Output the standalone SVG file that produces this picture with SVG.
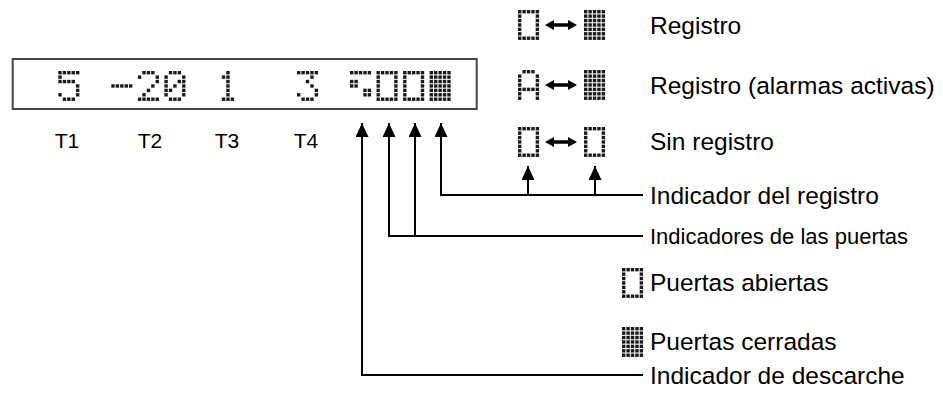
<svg xmlns="http://www.w3.org/2000/svg" xmlns:xlink="http://www.w3.org/1999/xlink" width="943" height="402" viewBox="0 0 943 402">
<style>
.dm{fill:#1a1a1a}
.lbl{font-family:"Liberation Sans",Arial,sans-serif;font-size:24.5px;fill:#000}
.sm{font-size:22px}
.tl{font-family:"Liberation Sans",Arial,sans-serif;font-size:21px;fill:#000;text-anchor:middle}
.ln{fill:none;stroke:#000;stroke-width:2}
</style>
<defs>
<marker id="ah" viewBox="0 0 14 13" refX="14" refY="6.5" markerWidth="14" markerHeight="13" markerUnits="userSpaceOnUse" orient="auto"><path d="M0,0 L14,6.5 L0,13 z" fill="#000"/></marker>
<path id="dbl" d="M0,0 L9,-5 L9,-1.8 L23,-1.8 L23,-5 L32,0 L23,5 L23,1.8 L9,1.8 L9,5 z" fill="#000"/>
<g id="g5" class="dm"><rect x="0" y="0" width="3.4" height="3.4"/><rect x="4.42" y="0" width="3.4" height="3.4"/><rect x="8.84" y="0" width="3.4" height="3.4"/><rect x="13.26" y="0" width="3.4" height="3.4"/><rect x="17.68" y="0" width="3.4" height="3.4"/><rect x="0" y="4.42" width="3.4" height="3.4"/><rect x="0" y="8.84" width="3.4" height="3.4"/><rect x="4.42" y="8.84" width="3.4" height="3.4"/><rect x="8.84" y="8.84" width="3.4" height="3.4"/><rect x="13.26" y="8.84" width="3.4" height="3.4"/><rect x="17.68" y="13.26" width="3.4" height="3.4"/><rect x="17.68" y="17.68" width="3.4" height="3.4"/><rect x="0" y="22.1" width="3.4" height="3.4"/><rect x="17.68" y="22.1" width="3.4" height="3.4"/><rect x="4.42" y="26.52" width="3.4" height="3.4"/><rect x="8.84" y="26.52" width="3.4" height="3.4"/><rect x="13.26" y="26.52" width="3.4" height="3.4"/></g>
<g id="gm" class="dm"><rect x="0" y="13.26" width="3.4" height="3.4"/><rect x="4.42" y="13.26" width="3.4" height="3.4"/><rect x="8.84" y="13.26" width="3.4" height="3.4"/><rect x="13.26" y="13.26" width="3.4" height="3.4"/><rect x="17.68" y="13.26" width="3.4" height="3.4"/></g>
<g id="g2" class="dm"><rect x="4.42" y="0" width="3.4" height="3.4"/><rect x="8.84" y="0" width="3.4" height="3.4"/><rect x="13.26" y="0" width="3.4" height="3.4"/><rect x="0" y="4.42" width="3.4" height="3.4"/><rect x="17.68" y="4.42" width="3.4" height="3.4"/><rect x="17.68" y="8.84" width="3.4" height="3.4"/><rect x="13.26" y="13.26" width="3.4" height="3.4"/><rect x="8.84" y="17.68" width="3.4" height="3.4"/><rect x="4.42" y="22.1" width="3.4" height="3.4"/><rect x="0" y="26.52" width="3.4" height="3.4"/><rect x="4.42" y="26.52" width="3.4" height="3.4"/><rect x="8.84" y="26.52" width="3.4" height="3.4"/><rect x="13.26" y="26.52" width="3.4" height="3.4"/><rect x="17.68" y="26.52" width="3.4" height="3.4"/></g>
<g id="g0" class="dm"><rect x="4.42" y="0" width="3.4" height="3.4"/><rect x="8.84" y="0" width="3.4" height="3.4"/><rect x="13.26" y="0" width="3.4" height="3.4"/><rect x="0" y="4.42" width="3.4" height="3.4"/><rect x="17.68" y="4.42" width="3.4" height="3.4"/><rect x="0" y="8.84" width="3.4" height="3.4"/><rect x="13.26" y="8.84" width="3.4" height="3.4"/><rect x="17.68" y="8.84" width="3.4" height="3.4"/><rect x="0" y="13.26" width="3.4" height="3.4"/><rect x="8.84" y="13.26" width="3.4" height="3.4"/><rect x="17.68" y="13.26" width="3.4" height="3.4"/><rect x="0" y="17.68" width="3.4" height="3.4"/><rect x="4.42" y="17.68" width="3.4" height="3.4"/><rect x="17.68" y="17.68" width="3.4" height="3.4"/><rect x="0" y="22.1" width="3.4" height="3.4"/><rect x="17.68" y="22.1" width="3.4" height="3.4"/><rect x="4.42" y="26.52" width="3.4" height="3.4"/><rect x="8.84" y="26.52" width="3.4" height="3.4"/><rect x="13.26" y="26.52" width="3.4" height="3.4"/></g>
<g id="g1" class="dm"><rect x="8.84" y="0" width="3.4" height="3.4"/><rect x="4.42" y="4.42" width="3.4" height="3.4"/><rect x="8.84" y="4.42" width="3.4" height="3.4"/><rect x="8.84" y="8.84" width="3.4" height="3.4"/><rect x="8.84" y="13.26" width="3.4" height="3.4"/><rect x="8.84" y="17.68" width="3.4" height="3.4"/><rect x="8.84" y="22.1" width="3.4" height="3.4"/><rect x="4.42" y="26.52" width="3.4" height="3.4"/><rect x="8.84" y="26.52" width="3.4" height="3.4"/><rect x="13.26" y="26.52" width="3.4" height="3.4"/></g>
<g id="g3" class="dm"><rect x="0" y="0" width="3.4" height="3.4"/><rect x="4.42" y="0" width="3.4" height="3.4"/><rect x="8.84" y="0" width="3.4" height="3.4"/><rect x="13.26" y="0" width="3.4" height="3.4"/><rect x="17.68" y="0" width="3.4" height="3.4"/><rect x="13.26" y="4.42" width="3.4" height="3.4"/><rect x="8.84" y="8.84" width="3.4" height="3.4"/><rect x="13.26" y="13.26" width="3.4" height="3.4"/><rect x="17.68" y="17.68" width="3.4" height="3.4"/><rect x="0" y="22.1" width="3.4" height="3.4"/><rect x="17.68" y="22.1" width="3.4" height="3.4"/><rect x="4.42" y="26.52" width="3.4" height="3.4"/><rect x="8.84" y="26.52" width="3.4" height="3.4"/><rect x="13.26" y="26.52" width="3.4" height="3.4"/></g>
<g id="gd" class="dm"><rect x="0" y="0" width="3.4" height="3.4"/><rect x="4.42" y="0" width="3.4" height="3.4"/><rect x="8.84" y="0" width="3.4" height="3.4"/><rect x="13.26" y="0" width="3.4" height="3.4"/><rect x="17.68" y="0" width="3.4" height="3.4"/><rect x="0" y="8.84" width="3.4" height="3.4"/><rect x="4.42" y="8.84" width="3.4" height="3.4"/><rect x="0" y="13.26" width="3.4" height="3.4"/><rect x="4.42" y="13.26" width="3.4" height="3.4"/><rect x="13.26" y="17.68" width="3.4" height="3.4"/><rect x="17.68" y="17.68" width="3.4" height="3.4"/><rect x="13.26" y="22.1" width="3.4" height="3.4"/><rect x="17.68" y="22.1" width="3.4" height="3.4"/></g>
<g id="go" class="dm"><rect x="0" y="0" width="3.4" height="3.4"/><rect x="4.42" y="0" width="3.4" height="3.4"/><rect x="8.84" y="0" width="3.4" height="3.4"/><rect x="13.26" y="0" width="3.4" height="3.4"/><rect x="17.68" y="0" width="3.4" height="3.4"/><rect x="0" y="4.42" width="3.4" height="3.4"/><rect x="17.68" y="4.42" width="3.4" height="3.4"/><rect x="0" y="8.84" width="3.4" height="3.4"/><rect x="17.68" y="8.84" width="3.4" height="3.4"/><rect x="0" y="13.26" width="3.4" height="3.4"/><rect x="17.68" y="13.26" width="3.4" height="3.4"/><rect x="0" y="17.68" width="3.4" height="3.4"/><rect x="17.68" y="17.68" width="3.4" height="3.4"/><rect x="0" y="22.1" width="3.4" height="3.4"/><rect x="17.68" y="22.1" width="3.4" height="3.4"/><rect x="0" y="26.52" width="3.4" height="3.4"/><rect x="4.42" y="26.52" width="3.4" height="3.4"/><rect x="8.84" y="26.52" width="3.4" height="3.4"/><rect x="13.26" y="26.52" width="3.4" height="3.4"/><rect x="17.68" y="26.52" width="3.4" height="3.4"/></g>
<g id="grow"><rect x="0" y="0" width="3.4" height="3.4"/><rect x="4.42" y="0" width="3.4" height="3.4"/><rect x="8.84" y="0" width="3.4" height="3.4"/><rect x="13.26" y="0" width="3.4" height="3.4"/><rect x="17.68" y="0" width="3.4" height="3.4"/></g>
<g id="gc" class="dm"><use xlink:href="#grow" y="0"/><use xlink:href="#grow" y="4.42"/><use xlink:href="#grow" y="8.84"/><use xlink:href="#grow" y="13.26"/><use xlink:href="#grow" y="17.68"/><use xlink:href="#grow" y="22.1"/><use xlink:href="#grow" y="26.52"/></g>
<g id="gA" class="dm"><rect x="4.42" y="0" width="3.4" height="3.4"/><rect x="8.84" y="0" width="3.4" height="3.4"/><rect x="13.26" y="0" width="3.4" height="3.4"/><rect x="0" y="4.42" width="3.4" height="3.4"/><rect x="17.68" y="4.42" width="3.4" height="3.4"/><rect x="0" y="8.84" width="3.4" height="3.4"/><rect x="17.68" y="8.84" width="3.4" height="3.4"/><rect x="0" y="13.26" width="3.4" height="3.4"/><rect x="17.68" y="13.26" width="3.4" height="3.4"/><use xlink:href="#grow" y="17.68"/><rect x="0" y="22.1" width="3.4" height="3.4"/><rect x="17.68" y="22.1" width="3.4" height="3.4"/><rect x="0" y="26.52" width="3.4" height="3.4"/><rect x="17.68" y="26.52" width="3.4" height="3.4"/></g>
</defs>
<rect width="943" height="402" fill="#fff"/>

<g id="display">
<rect x="12.7" y="59" width="464" height="50" fill="none" stroke="#444" stroke-width="2"/>
<use xlink:href="#g5" x="58.3" y="71"/>
<use xlink:href="#gm" x="111.3" y="71"/>
<use xlink:href="#g2" x="137.9" y="71"/>
<use xlink:href="#g0" x="164.4" y="71"/>
<use xlink:href="#g1" x="217.4" y="71"/>
<use xlink:href="#g3" x="297" y="71"/>
<use xlink:href="#gd" x="350" y="71"/>
<use xlink:href="#go" x="376.5" y="71"/>
<use xlink:href="#go" x="403.1" y="71"/>
<use xlink:href="#gc" x="429.6" y="71"/>
</g>

<g id="temps">
<text class="tl" x="67" y="147.5">T1</text>
<text class="tl" x="150" y="147.5">T2</text>
<text class="tl" x="227" y="147.5">T3</text>
<text class="tl" x="306" y="147.5">T4</text>
</g>

<g id="reg-on">
<use xlink:href="#go" x="518" y="10"/>
<use xlink:href="#dbl" x="545" y="25"/>
<use xlink:href="#gc" x="584" y="10"/>
<text class="lbl" x="650" y="34">Registro</text>
</g>
<g id="reg-alarm">
<use xlink:href="#gA" x="518" y="70"/>
<use xlink:href="#dbl" x="545" y="85"/>
<use xlink:href="#gc" x="584" y="70"/>
<text class="lbl" x="650" y="93.5">Registro (alarmas activas)</text>
</g>
<g id="reg-off">
<use xlink:href="#go" x="518" y="127"/>
<use xlink:href="#dbl" x="545" y="142"/>
<use xlink:href="#go" x="584" y="127"/>
<text class="lbl" x="650" y="150">Sin registro</text>
</g>

<g id="connectors">
<path class="ln" d="M643,195 H441 V123" marker-end="url(#ah)"/>
<path class="ln" d="M528,195 V166" marker-end="url(#ah)"/>
<path class="ln" d="M595,195 V166" marker-end="url(#ah)"/>
<path class="ln" d="M643,236 H389 V123" marker-end="url(#ah)"/>
<path class="ln" d="M415,236 V123" marker-end="url(#ah)"/>
<path class="ln" d="M643,375 H362 V123" marker-end="url(#ah)"/>
</g>

<g id="lbl-registro"><text class="lbl" x="650" y="203.5">Indicador del registro</text></g>
<g id="lbl-puertas"><text class="lbl sm" x="650" y="243.5">Indicadores de las puertas</text></g>
<g id="legend-open">
<use xlink:href="#go" x="622" y="268"/>
<text class="lbl" x="650" y="291">Puertas abiertas</text>
</g>
<g id="legend-closed">
<use xlink:href="#gc" x="622" y="327"/>
<text class="lbl" x="650" y="350">Puertas cerradas</text>
</g>
<g id="lbl-descarche"><text class="lbl" x="650" y="383.5">Indicador de descarche</text></g>
</svg>
